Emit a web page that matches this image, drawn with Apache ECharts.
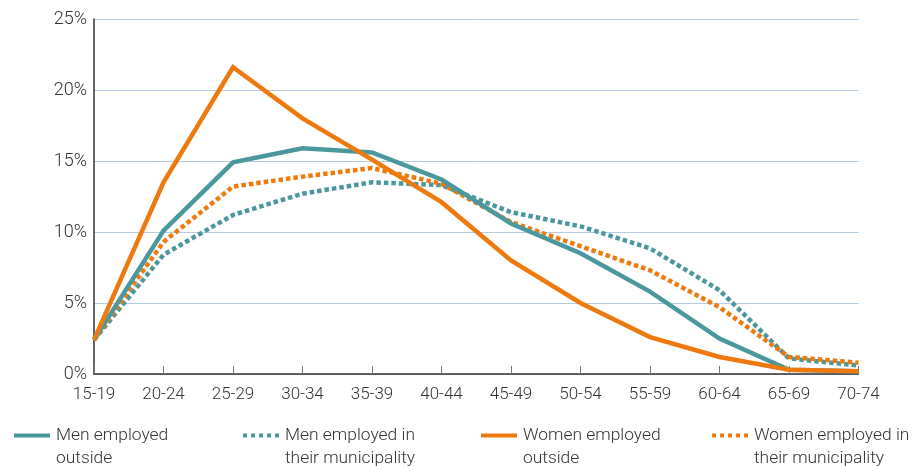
<!DOCTYPE html>
<html>
<head>
<meta charset="utf-8">
<script src="https://cdn.jsdelivr.net/npm/echarts@6/dist/echarts.min.js"></script>
<style>
  html, body { margin: 0; padding: 0; background: #fff; }
  #chart { width: 912px; height: 466px; }
</style>
</head>
<body>
<div id="chart"></div>
<script>
// age groups on the x axis
var ageGroups = ['15-19', '20-24', '25-29', '30-34', '35-39', '40-44', '45-49', '50-54', '55-59', '60-64', '65-69', '70-74']

// share of employed, per cent
var menOutside = [2.4, 10.1, 14.9, 15.9, 15.6, 13.7, 10.6, 8.5, 5.8, 2.5, 0.3, 0.2]
var menMunicipality = [2.4, 8.4, 11.2, 12.7, 13.5, 13.3, 11.4, 10.4, 8.85, 5.9, 1.1, 0.6]
var womenOutside = [2.4, 13.5, 21.6, 18.0, 15.1, 12.1, 8.0, 5.0, 2.6, 1.2, 0.3, 0.2]
var womenMunicipality = [2.4, 9.3, 13.2, 13.9, 14.5, 13.4, 10.7, 9.0, 7.3, 4.7, 1.2, 0.8]

var seriesNames = ['Men employed outside', 'Men employed in their municipality', 'Women employed outside', 'Women employed in their municipality']
var legendLabels = ['Men employed\noutside', 'Men employed in\ntheir municipality', 'Women employed\noutside', 'Women employed in\ntheir municipality']
var legendLeft = [9, 238, 476, 707]

var teal = '#4a989e'
var orange = '#ee7a0e'
var font = 'Roboto'

// legend icons: a bar and a row of dots
var solidIcon = 'path://M0,0H36V4H0Z'
var dottedIcon = 'path://M0,0h4v4h-4z M8,0h4v4h-4z M16,0h4v4h-4z M24,0h4v4h-4z M32,0h4v4h-4z'

function makeLine(name, data, color, dotted) {
  return {
    name: name,
    type: 'line',
    data: data,
    symbol: 'none',
    z: dotted ? 2 : 3,
    lineStyle: {
      color: color,
      width: 4.5,
      type: dotted ? [4.5, 3] : 'solid',
      cap: 'butt',
      join: 'miter'
    },
    itemStyle: { color: color }
  }
}

var legends = seriesNames.map(function (name, i) {
  return {
    data: [{ name: name, icon: i % 2 ? dottedIcon : solidIcon }],
    left: legendLeft[i],
    top: 396,
    orient: 'horizontal',
    itemWidth: 36,
    itemHeight: 4,
    itemGap: 0,
    selectedMode: false,
    itemStyle: { borderWidth: 0 },
    // empty first line keeps the icon level with the first text line
    formatter: function () { return ' \n' + legendLabels[i] },
    textStyle: {
      fontFamily: font,
      fontWeight: 300,
      fontSize: 17.4,
      lineHeight: 23,
      color: '#333',
      padding: [0, 0, 0, 1]
    }
  }
})

var chart = echarts.init(document.getElementById('chart'))
chart.setOption({
  animation: false,
  grid: { left: 94, right: 53.5, top: 19, bottom: 92 },
  legend: legends,
  xAxis: {
    type: 'category',
    data: ageGroups,
    boundaryGap: false,
    axisLine: { lineStyle: { color: '#333', width: 1.5 } },
    axisTick: { inside: true, length: 8, lineStyle: { color: '#777' } },
    axisLabel: { fontFamily: font, fontWeight: 300, fontSize: 17, color: '#333', margin: 12 },
    splitLine: { show: false }
  },
  yAxis: {
    type: 'value',
    min: 0,
    max: 25,
    interval: 5,
    axisLine: { show: true, lineStyle: { color: '#333', width: 1.5 } },
    axisTick: { show: false },
    axisLabel: {
      formatter: '{value}%',
      fontFamily: font,
      fontWeight: 300,
      fontSize: 18,
      color: '#333',
      margin: 7,
      padding: [6, 0, 0, 0]
    },
    splitLine: { lineStyle: { color: '#b3cce4', width: 1 } }
  },
  series: [
    makeLine(seriesNames[1], menMunicipality, teal, true),
    makeLine(seriesNames[3], womenMunicipality, orange, true),
    makeLine(seriesNames[0], menOutside, teal, false),
    makeLine(seriesNames[2], womenOutside, orange, false)
  ]
})
</script>
</body>
</html>
